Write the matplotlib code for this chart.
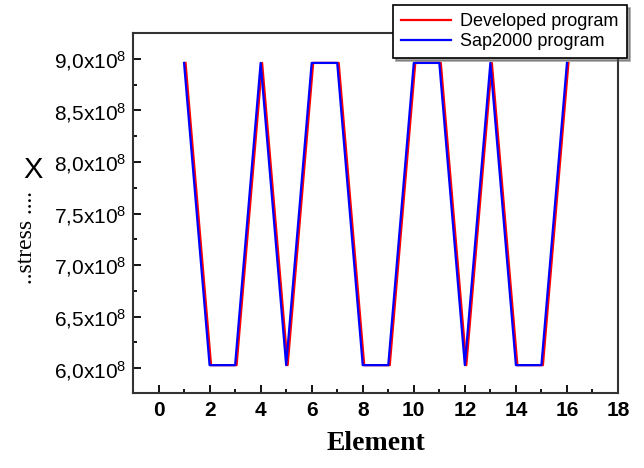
import matplotlib
matplotlib.use("Agg")
import matplotlib.pyplot as plt
import matplotlib.transforms as mtransforms
from matplotlib.ticker import MultipleLocator, FuncFormatter

elements = [1, 2, 3, 4, 5, 6, 7, 8, 9, 10, 11, 12, 13, 14, 15, 16]
developed = [8.96e8, 6.03e8, 6.03e8, 8.96e8, 6.03e8, 8.96e8, 8.96e8, 6.03e8,
             6.03e8, 8.96e8, 8.96e8, 6.03e8, 8.96e8, 6.03e8, 6.03e8, 8.96e8]
sap2000 = [8.96e8, 6.03e8, 6.03e8, 8.96e8, 6.03e8, 8.96e8, 8.96e8, 6.03e8,
           6.03e8, 8.96e8, 8.96e8, 6.03e8, 8.96e8, 6.03e8, 6.03e8, 8.96e8]
x_ticks = [0, 2, 4, 6, 8, 10, 12, 14, 16, 18]
y_ticks = [6.0e8, 6.5e8, 7.0e8, 7.5e8, 8.0e8, 8.5e8, 9.0e8]

plt.rcParams['mathtext.fontset'] = 'custom'
plt.rcParams['mathtext.rm'] = 'Liberation Sans'
plt.rcParams['mathtext.it'] = 'Liberation Sans'
plt.rcParams['mathtext.bf'] = 'Liberation Sans:bold'

fig = plt.figure(figsize=(6.44, 4.68), dpi=100)
ax = fig.add_axes([133/644, 1-393/468, (618-133)/644, (393-33)/468])

off = mtransforms.offset_copy(ax.transData, fig=fig, x=1.5, y=0, units='dots')
ax.plot(elements, developed, color='#ff0000', lw=1.6, transform=off, label='Developed program')
ax.plot(elements, sap2000, color='#0000ff', lw=1.6, label='Sap2000 program')

ax.set_xlim(-1, 18)
ax.set_ylim(5.76e8, 9.25e8)
ax.set_xticks(x_ticks)
ax.xaxis.set_minor_locator(MultipleLocator(1))
ax.set_yticks(y_ticks)
ax.yaxis.set_minor_locator(MultipleLocator(0.25e8))

def yfmt(v, pos):
    s = f"{v/1e8:.1f}".replace('.', ',')
    return s + r"x10$^{8}$"
ax.yaxis.set_major_formatter(FuncFormatter(yfmt))

ax.tick_params(which='both', direction='in', top=False, right=False, width=1.3)
ax.tick_params(which='major', length=6)
ax.tick_params(which='minor', length=3)
ax.tick_params(axis='x', labelsize=15, pad=6)
ax.tick_params(axis='y', labelsize=15, pad=5)
for lab in ax.get_xticklabels():
    lab.set_fontfamily('Liberation Sans')
    lab.set_fontweight('bold')
for lab in ax.get_yticklabels():
    lab.set_fontfamily('Liberation Sans')
for sp in ax.spines.values():
    sp.set_linewidth(1.5)
    sp.set_color('#333333')

ax.set_xlabel('Element', fontfamily='Liberation Serif', fontweight='bold', fontsize=20, labelpad=8)

fig.text(27/644, 1-238/468, '..stress ....', rotation=90, fontfamily='Liberation Serif',
         fontsize=17, ha='center', va='center')
fig.text(33/644, 1-170/468, 'X', fontfamily='Liberation Sans', fontsize=21,
         ha='center', va='center')

leg = ax.legend(loc='upper right', bbox_to_anchor=(627/644, 1-5/468),
                bbox_transform=fig.transFigure, fancybox=False, shadow=True,
                framealpha=1, edgecolor='black',
                prop={'family': 'Liberation Sans', 'size': 13},
                handlelength=2.8, borderpad=0.45, labelspacing=0.15,
                handletextpad=0.5, borderaxespad=0)
leg.get_frame().set_linewidth(1.2)
leg.set_zorder(10)

fig.savefig('out.png', dpi=100)
